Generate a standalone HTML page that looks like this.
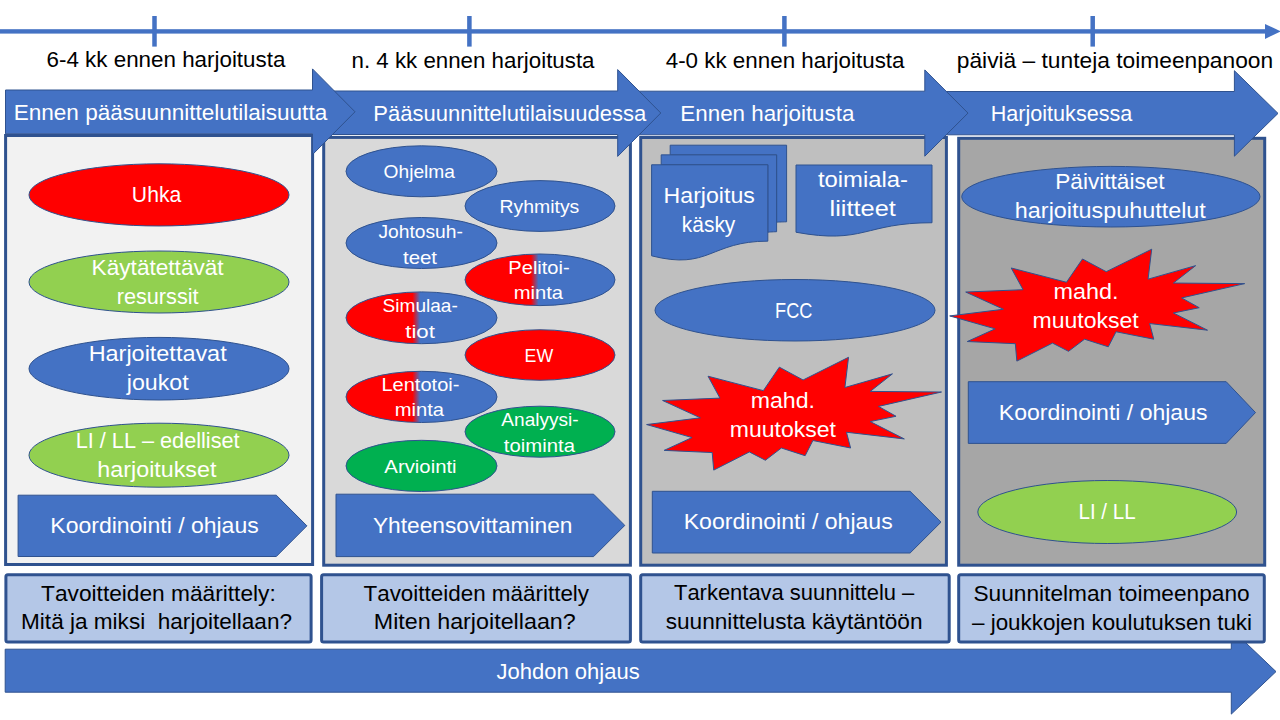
<!DOCTYPE html>
<html><head><meta charset="utf-8"><title>Harjoitusten suunnittelu</title>
<style>
html,body{margin:0;padding:0;background:#fff;width:1280px;height:720px;overflow:hidden;}
svg{display:block;}
text{font-family:"Liberation Sans",sans-serif;font-kerning:none;white-space:pre;}
</style></head><body>
<svg width="1280" height="720" viewBox="0 0 1280 720">
<rect width="1280" height="720" fill="#fff"/>
<rect x="0" y="29.2" width="1266" height="4.4" fill="#4472C4"/>
<polygon points="1265,23.9 1281,31.4 1265,38.9" fill="#4472C4"/>
<rect x="152.25" y="16" width="4.5" height="30.6" fill="#4472C4"/>
<rect x="467.15" y="16" width="4.5" height="30.6" fill="#4472C4"/>
<rect x="782.15" y="16" width="4.5" height="30.6" fill="#4472C4"/>
<rect x="1090.45" y="16" width="4.5" height="30.6" fill="#4472C4"/>
<text x="46.56" y="67.40" font-size="21.6" fill="#000" textLength="238.84" lengthAdjust="spacingAndGlyphs">6-4 kk ennen harjoitusta</text>
<text x="351.52" y="67.50" font-size="21.6" fill="#000" textLength="242.98" lengthAdjust="spacingAndGlyphs">n. 4 kk ennen harjoitusta</text>
<text x="665.74" y="67.50" font-size="21.6" fill="#000" textLength="238.76" lengthAdjust="spacingAndGlyphs">4-0 kk ennen harjoitusta</text>
<text x="956.78" y="67.80" font-size="21.6" fill="#000" textLength="316.40" lengthAdjust="spacingAndGlyphs">päiviä – tunteja toimeenpanoon</text>
<rect x="5.6" y="135.5" width="307.00" height="429.00" rx="0" fill="#F2F2F2" stroke="#2F528F" stroke-width="3"/>
<rect x="323.7" y="137.4" width="306.70" height="427.80" rx="0" fill="#D9D9D9" stroke="#2F528F" stroke-width="3"/>
<rect x="640.7" y="137.5" width="305.70" height="427.70" rx="0" fill="#BFBFBF" stroke="#2F528F" stroke-width="3"/>
<rect x="958.7" y="138.3" width="306.00" height="426.90" rx="0" fill="#A6A6A6" stroke="#2F528F" stroke-width="3"/>
<polygon points="930.00,91.50 1234.40,91.50 1234.40,70.70 1278.00,113.40 1234.40,156.20 1234.40,134.80 930.00,134.80" fill="#4472C4" stroke="#2F528F" stroke-width="1"/>
<polygon points="622.00,91.20 924.80,91.20 924.80,69.90 968.00,113.10 924.80,156.20 924.80,134.80 622.00,134.80" fill="#4472C4" stroke="#2F528F" stroke-width="1"/>
<polygon points="315.00,91.00 617.70,91.00 617.70,69.60 660.80,113.00 617.70,156.40 617.70,134.50 315.00,134.50" fill="#4472C4" stroke="#2F528F" stroke-width="1"/>
<polygon points="5.50,90.00 312.50,90.00 312.50,68.90 355.00,111.80 312.50,154.60 312.50,133.80 5.50,133.80" fill="#4472C4" stroke="#2F528F" stroke-width="1"/>
<text x="13.65" y="119.80" font-size="21.6" fill="#fff" textLength="313.55" lengthAdjust="spacingAndGlyphs">Ennen pääsuunnittelutilaisuutta</text>
<text x="373.19" y="120.75" font-size="21.6" fill="#fff" textLength="273.06" lengthAdjust="spacingAndGlyphs">Pääsuunnittelutilaisuudessa</text>
<text x="680.37" y="120.80" font-size="21.6" fill="#fff" textLength="174.03" lengthAdjust="spacingAndGlyphs">Ennen harjoitusta</text>
<text x="990.73" y="121.30" font-size="21.6" fill="#fff" textLength="141.57" lengthAdjust="spacingAndGlyphs">Harjoituksessa</text>
<ellipse cx="159" cy="194.9" rx="130" ry="31.1" fill="#FF0000" stroke="#2F528F" stroke-width="1"/>
<ellipse cx="159" cy="282" rx="130" ry="31" fill="#92D050" stroke="#2F528F" stroke-width="1"/>
<ellipse cx="159" cy="368.7" rx="130" ry="31.3" fill="#4472C4" stroke="#2F528F" stroke-width="1"/>
<ellipse cx="159" cy="455.2" rx="130" ry="32" fill="#92D050" stroke="#2F528F" stroke-width="1"/>
<polygon points="18.10,495.20 276.30,495.20 306.90,525.85 276.30,556.50 18.10,556.50" fill="#4472C4" stroke="#2F528F" stroke-width="1"/>
<text x="131.87" y="201.90" font-size="21.6" fill="#fff" textLength="49.38" lengthAdjust="spacingAndGlyphs">Uhka</text>
<text x="91.64" y="274.75" font-size="21.6" fill="#fff" textLength="132.02" lengthAdjust="spacingAndGlyphs">Käytätettävät</text>
<text x="116.66" y="303.75" font-size="21.6" fill="#fff" textLength="82.00" lengthAdjust="spacingAndGlyphs">resurssit</text>
<text x="88.68" y="361.00" font-size="21.6" fill="#fff" textLength="137.99" lengthAdjust="spacingAndGlyphs">Harjoitettavat</text>
<text x="126.82" y="389.75" font-size="21.6" fill="#fff" textLength="61.85" lengthAdjust="spacingAndGlyphs">joukot</text>
<text x="75.72" y="448.10" font-size="21.6" fill="#fff" textLength="163.84" lengthAdjust="spacingAndGlyphs">LI / LL – edelliset</text>
<text x="97.39" y="476.60" font-size="21.6" fill="#fff" textLength="119.03" lengthAdjust="spacingAndGlyphs">harjoitukset</text>
<text x="50.31" y="532.80" font-size="21.6" fill="#fff" textLength="208.42" lengthAdjust="spacingAndGlyphs">Koordinointi / ohjaus</text>
<defs><linearGradient id="rb" x1="0" y1="0" x2="1" y2="0"><stop offset="0.44" stop-color="#FF0000"/><stop offset="0.49" stop-color="#4472C4"/></linearGradient></defs>
<ellipse cx="421.5" cy="171.3" rx="75.5" ry="25.5" fill="#4472C4" stroke="#2F528F" stroke-width="1"/>
<ellipse cx="540" cy="206" rx="75" ry="25.4" fill="#4472C4" stroke="#2F528F" stroke-width="1"/>
<ellipse cx="421.5" cy="243" rx="75.5" ry="25.5" fill="#4472C4" stroke="#2F528F" stroke-width="1"/>
<ellipse cx="540" cy="279.8" rx="75" ry="25.8" fill="url(#rb)" stroke="#2F528F" stroke-width="1"/>
<ellipse cx="421.5" cy="317.8" rx="75.5" ry="25.9" fill="url(#rb)" stroke="#2F528F" stroke-width="1"/>
<ellipse cx="540" cy="355" rx="75" ry="25.25" fill="#FF0000" stroke="#2F528F" stroke-width="1"/>
<ellipse cx="421.5" cy="396.9" rx="75.5" ry="25.6" fill="url(#rb)" stroke="#2F528F" stroke-width="1"/>
<ellipse cx="540" cy="431.7" rx="75" ry="25.5" fill="#00B050" stroke="#2F528F" stroke-width="1"/>
<ellipse cx="421.5" cy="465.9" rx="75.5" ry="25.6" fill="#00B050" stroke="#2F528F" stroke-width="1"/>
<polygon points="336.00,494.20 593.60,494.20 624.80,525.40 593.60,556.60 336.00,556.60" fill="#4472C4" stroke="#2F528F" stroke-width="1"/>
<text x="383.59" y="178.00" font-size="18.2" fill="#fff" textLength="71.41" lengthAdjust="spacingAndGlyphs">Ohjelma</text>
<text x="499.51" y="212.90" font-size="18.2" fill="#fff" textLength="79.79" lengthAdjust="spacingAndGlyphs">Ryhmitys</text>
<text x="378.45" y="237.70" font-size="18.2" fill="#fff" textLength="84.40" lengthAdjust="spacingAndGlyphs">Johtosuh-</text>
<text x="402.99" y="263.75" font-size="18.2" fill="#fff" textLength="34.06" lengthAdjust="spacingAndGlyphs">teet</text>
<text x="508.36" y="273.75" font-size="18.2" fill="#fff" textLength="61.29" lengthAdjust="spacingAndGlyphs">Pelitoi-</text>
<text x="513.66" y="299.40" font-size="18.2" fill="#fff" textLength="49.44" lengthAdjust="spacingAndGlyphs">minta</text>
<text x="382.64" y="311.90" font-size="18.2" fill="#fff" textLength="75.11" lengthAdjust="spacingAndGlyphs">Simulaa-</text>
<text x="405.26" y="337.50" font-size="18.2" fill="#fff" textLength="29.65" lengthAdjust="spacingAndGlyphs">tiot</text>
<text x="524.54" y="361.90" font-size="18.2" fill="#fff" textLength="28.62" lengthAdjust="spacingAndGlyphs">EW</text>
<text x="381.46" y="390.60" font-size="18.2" fill="#fff" textLength="77.93" lengthAdjust="spacingAndGlyphs">Lentotoi-</text>
<text x="394.66" y="416.25" font-size="18.2" fill="#fff" textLength="49.34" lengthAdjust="spacingAndGlyphs">minta</text>
<text x="501.36" y="425.70" font-size="18.2" fill="#fff" textLength="77.28" lengthAdjust="spacingAndGlyphs">Analyysi-</text>
<text x="503.89" y="451.70" font-size="18.2" fill="#fff" textLength="71.11" lengthAdjust="spacingAndGlyphs">toiminta</text>
<text x="384.36" y="472.75" font-size="18.2" fill="#fff" textLength="72.26" lengthAdjust="spacingAndGlyphs">Arviointi</text>
<text x="372.90" y="533.40" font-size="21.6" fill="#fff" textLength="199.57" lengthAdjust="spacingAndGlyphs">Yhteensovittaminen</text>
<path d="M670.18,154.86 L670.18,145.20 L786.60,145.20 L786.60,221.82 C781.60,221.82 776.60,222.22 776.60,222.22 L776.60,154.86 Z" fill="#4472C4" stroke="#2F528F" stroke-width="1"/>
<path d="M661.18,164.77 L661.18,154.86 L776.60,154.86 L776.60,231.73 C772.21,231.73 767.82,232.26 767.82,232.26 L767.82,164.77 Z" fill="#4472C4" stroke="#2F528F" stroke-width="1"/>
<path d="M651.60,255.84 C709.71,270.54 709.71,241.15 767.82,241.15 L767.82,164.77 L651.60,164.77 Z" fill="#4472C4" stroke="#2F528F" stroke-width="1"/>
<path d="M796.00,165.00 L932.00,165.00 L932.00,222.74 C864.00,222.74 864.00,244.74 796.00,232.24 Z" fill="#4472C4" stroke="#2F528F" stroke-width="1"/>
<ellipse cx="795" cy="310.25" rx="140" ry="30.75" fill="#4472C4" stroke="#2F528F" stroke-width="1"/>
<polygon points="803.09,379.97 848.52,357.30 844.91,387.47 892.45,373.86 870.23,391.41 941.50,392.00 878.49,406.40 896.04,416.26 870.23,421.59 904.32,438.93 846.48,432.24 850.60,448.01 812.89,440.52 805.14,455.70 781.38,448.01 765.38,460.24 749.36,451.95 713.73,470.10 712.20,452.55 664.14,450.39 692.06,437.57 646.60,424.55 700.32,417.84 662.60,400.49 719.94,398.12 708.06,376.23 763.33,390.63 779.33,367.15" fill="#FF0000" stroke="#2F528F" stroke-width="1" stroke-linejoin="miter" stroke-miterlimit="10"/>
<polygon points="652.30,491.30 910.10,491.30 941.00,522.15 910.10,553.00 652.30,553.00" fill="#4472C4" stroke="#2F528F" stroke-width="1"/>
<text x="663.60" y="202.80" font-size="21.6" fill="#fff" textLength="91.23" lengthAdjust="spacingAndGlyphs">Harjoitus</text>
<text x="681.79" y="231.70" font-size="21.6" fill="#fff" textLength="53.55" lengthAdjust="spacingAndGlyphs">käsky</text>
<text x="817.94" y="186.60" font-size="21.6" fill="#fff" textLength="90.02" lengthAdjust="spacingAndGlyphs">toimiala-</text>
<text x="829.59" y="215.80" font-size="21.6" fill="#fff" textLength="66.30" lengthAdjust="spacingAndGlyphs">liitteet</text>
<text x="775.11" y="318.00" font-size="21.6" fill="#fff" textLength="37.28" lengthAdjust="spacingAndGlyphs">FCC</text>
<text x="750.76" y="407.90" font-size="21.6" fill="#fff" textLength="64.25" lengthAdjust="spacingAndGlyphs">mahd.</text>
<text x="729.87" y="436.90" font-size="21.6" fill="#fff" textLength="106.10" lengthAdjust="spacingAndGlyphs">muutokset</text>
<text x="683.71" y="529.10" font-size="21.6" fill="#fff" textLength="209.03" lengthAdjust="spacingAndGlyphs">Koordinointi / ohjaus</text>
<ellipse cx="1110.85" cy="196.7" rx="149.15" ry="30.3" fill="#4472C4" stroke="#2F528F" stroke-width="1"/>
<polygon points="1106.24,271.69 1151.69,249.20 1148.07,279.13 1195.63,265.63 1173.41,283.04 1244.70,283.62 1181.67,297.91 1199.22,307.69 1173.41,312.97 1207.51,330.18 1149.64,323.54 1153.77,339.19 1116.05,331.75 1108.29,346.81 1084.53,339.19 1068.52,351.32 1052.50,343.10 1016.85,361.10 1015.32,343.69 967.25,341.54 995.18,328.83 949.70,315.91 1003.44,309.25 965.71,292.04 1023.07,289.70 1011.19,267.98 1066.47,282.26 1082.48,258.98" fill="#FF0000" stroke="#2F528F" stroke-width="1" stroke-linejoin="miter" stroke-miterlimit="10"/>
<polygon points="968.30,381.70 1226.20,381.70 1255.50,412.55 1226.20,443.40 968.30,443.40" fill="#4472C4" stroke="#2F528F" stroke-width="1"/>
<ellipse cx="1107.2" cy="512" rx="129.4" ry="31.5" fill="#92D050" stroke="#2F528F" stroke-width="1"/>
<text x="1055.25" y="188.70" font-size="21.6" fill="#fff" textLength="109.32" lengthAdjust="spacingAndGlyphs">Päivittäiset</text>
<text x="1014.88" y="217.50" font-size="21.6" fill="#fff" textLength="190.99" lengthAdjust="spacingAndGlyphs">harjoituspuhuttelut</text>
<text x="1053.45" y="299.30" font-size="21.6" fill="#fff" textLength="64.99" lengthAdjust="spacingAndGlyphs">mahd.</text>
<text x="1032.47" y="328.40" font-size="21.6" fill="#fff" textLength="106.30" lengthAdjust="spacingAndGlyphs">muutokset</text>
<text x="998.81" y="420.00" font-size="21.6" fill="#fff" textLength="208.72" lengthAdjust="spacingAndGlyphs">Koordinointi / ohjaus</text>
<text x="1078.51" y="518.70" font-size="21.6" fill="#fff" textLength="57.17" lengthAdjust="spacingAndGlyphs">LI / LL</text>
<polygon points="5.20,649.20 1231.30,649.20 1231.30,629.00 1276.00,671.60 1231.30,714.10 1231.30,692.20 5.20,692.20" fill="#4472C4" stroke="#2F528F" stroke-width="1"/>
<text x="496.56" y="678.75" font-size="21.6" fill="#fff" textLength="143.14" lengthAdjust="spacingAndGlyphs">Johdon ohjaus</text>
<rect x="5.9" y="574.7" width="305.20" height="67.40" rx="2" fill="#B4C7E7" stroke="#2F528F" stroke-width="3"/>
<rect x="321.6" y="574.7" width="308.80" height="67.40" rx="2" fill="#B4C7E7" stroke="#2F528F" stroke-width="3"/>
<rect x="640.7" y="574.7" width="308.50" height="67.40" rx="2" fill="#B4C7E7" stroke="#2F528F" stroke-width="3"/>
<rect x="958.7" y="574.7" width="305.60" height="67.40" rx="2" fill="#B4C7E7" stroke="#2F528F" stroke-width="3"/>
<text x="41.09" y="600.80" font-size="21.6" fill="#000" textLength="234.68" lengthAdjust="spacingAndGlyphs">Tavoitteiden määrittely:</text>
<text x="21.05" y="628.90" font-size="21.6" fill="#000" textLength="270.99" lengthAdjust="spacingAndGlyphs">Mitä ja miksi  harjoitellaan?</text>
<text x="363.50" y="600.80" font-size="21.6" fill="#000" textLength="225.55" lengthAdjust="spacingAndGlyphs">Tavoitteiden määrittely</text>
<text x="373.79" y="628.90" font-size="21.6" fill="#000" textLength="201.97" lengthAdjust="spacingAndGlyphs">Miten harjoitellaan?</text>
<text x="674.01" y="600.40" font-size="21.6" fill="#000" textLength="240.30" lengthAdjust="spacingAndGlyphs">Tarkentava suunnittelu –</text>
<text x="665.67" y="628.80" font-size="21.6" fill="#000" textLength="256.90" lengthAdjust="spacingAndGlyphs">suunnittelusta käytäntöön</text>
<text x="973.47" y="601.25" font-size="21.6" fill="#000" textLength="276.23" lengthAdjust="spacingAndGlyphs">Suunnitelman toimeenpano</text>
<text x="972.00" y="629.50" font-size="21.6" fill="#000" textLength="280.01" lengthAdjust="spacingAndGlyphs">– joukkojen koulutuksen tuki</text>
</svg>
</body></html>
